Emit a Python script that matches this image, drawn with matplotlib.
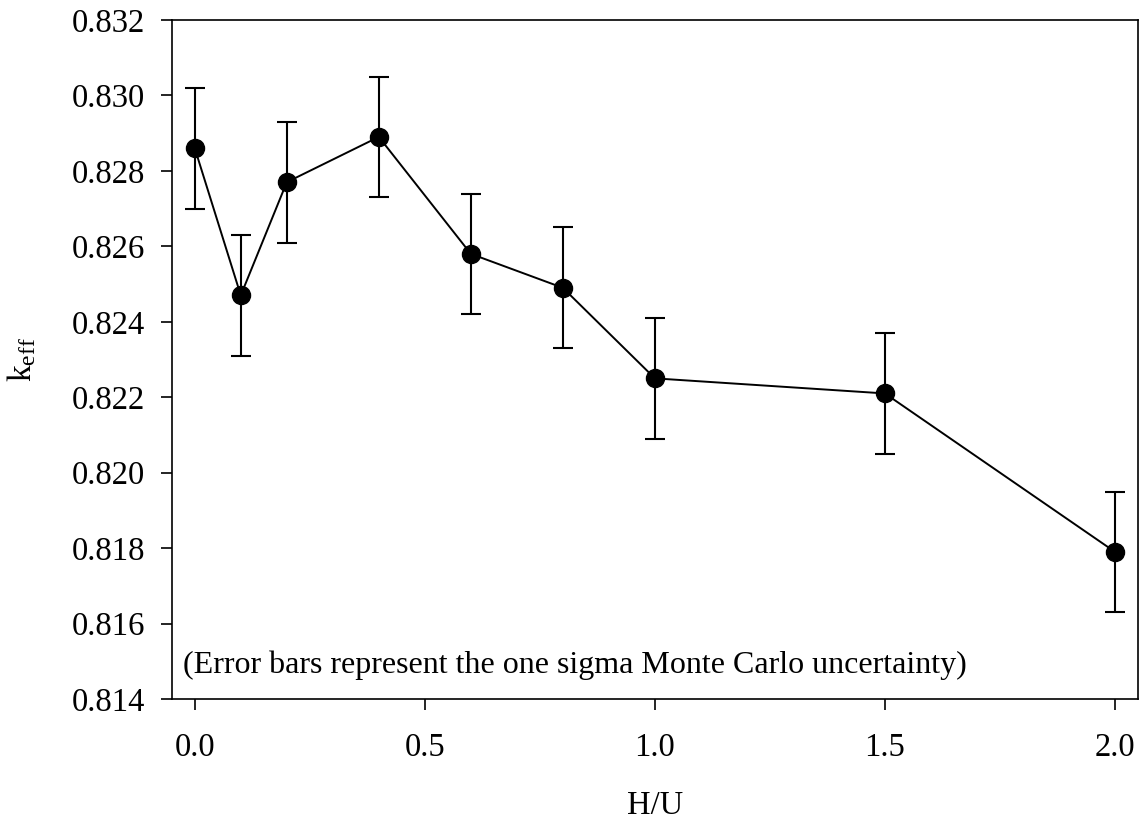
# k_eff vs H/U with one-sigma error bars

import matplotlib
matplotlib.use("Agg")
import matplotlib.pyplot as plt

hu = [0.0, 0.1, 0.2, 0.4, 0.6, 0.8, 1.0, 1.5, 2.0]
keff = [0.8286, 0.8247, 0.8277, 0.8289, 0.8258, 0.8249, 0.8225, 0.8221, 0.8179]
sigma = [0.0016, 0.0016, 0.0016, 0.0016, 0.0016, 0.0016, 0.0016, 0.0016, 0.0016]

xticks = [0.0, 0.5, 1.0, 1.5, 2.0]
yticks = [0.814, 0.816, 0.818, 0.820, 0.822, 0.824, 0.826, 0.828, 0.830, 0.832]

plt.rcParams['font.family'] = ['Liberation Serif', 'DejaVu Serif']
plt.rcParams['mathtext.fontset'] = 'custom'
plt.rcParams['mathtext.rm'] = 'Liberation Serif'
plt.rcParams['mathtext.it'] = 'Liberation Serif'

fig = plt.figure(figsize=(11.42, 8.25), dpi=100)
ax = fig.add_axes([0.1504, 0.1527, 0.8461, 0.8231])

ax.errorbar(hu, keff, yerr=sigma, color='black', linewidth=1.4,
            marker='o', markersize=13, elinewidth=1.5, capsize=7.2,
            capthick=1.5)

ax.set_xlim(-0.05, 2.05)
ax.set_ylim(0.814, 0.832)
ax.set_xticks(xticks)
ax.set_xticklabels(['%.1f' % v for v in xticks])
ax.set_yticks(yticks)
ax.set_yticklabels(['%.3f' % v for v in yticks])

ax.tick_params(axis='both', direction='out', length=8, width=1.2,
               labelsize=23.5, top=False, right=False)
ax.tick_params(axis='y', pad=11)
ax.tick_params(axis='x', pad=16)
for s in ax.spines.values():
    s.set_linewidth(1.2)

ax.set_xlabel('H/U', fontsize=23.5, labelpad=20)
ax.set_ylabel(r'k$_{\mathrm{eff}}$', fontsize=24, labelpad=24)

ax.text(0.012, 0.05, '(Error bars represent the one sigma Monte Carlo uncertainty)',
        transform=ax.transAxes, fontsize=23, va='center', ha='left')

fig.savefig('out.png', dpi=100)
